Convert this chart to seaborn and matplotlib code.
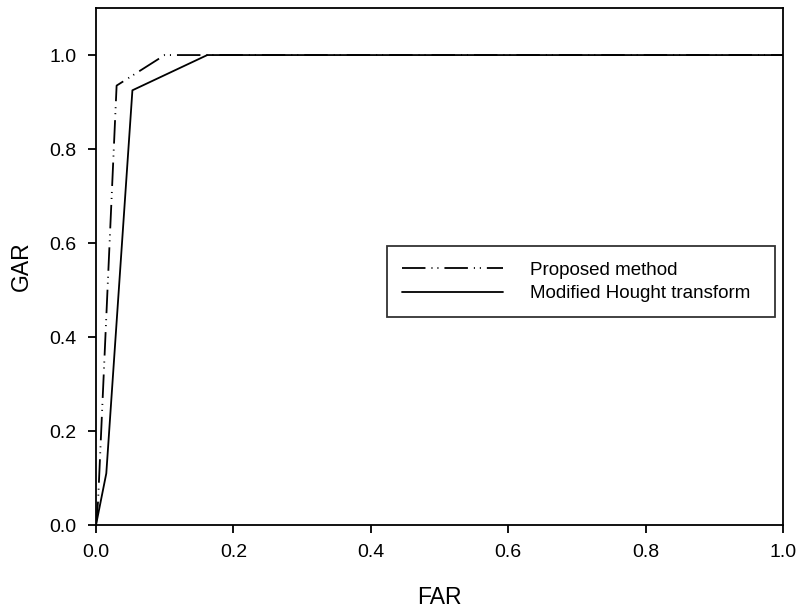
import pandas as pd
import matplotlib.pyplot as plt
import seaborn as sns

# ROC-like curves
far_proposed = [0.0, 0.003, 0.030, 0.100, 1.0]
gar_proposed = [0.0, 0.05, 0.935, 1.0, 1.0]
far_hough = [0.0, 0.015, 0.053, 0.162, 1.0]
gar_hough = [0.0, 0.11, 0.925, 1.0, 1.0]

labels = ['Proposed method', 'Modified Hought transform']
ticks = [0.0, 0.2, 0.4, 0.6, 0.8, 1.0]
tick_labels = ['0.0', '0.2', '0.4', '0.6', '0.8', '1.0']

df = pd.concat([
    pd.DataFrame({'FAR': far_proposed, 'GAR': gar_proposed, 'method': labels[0]}),
    pd.DataFrame({'FAR': far_hough, 'GAR': gar_hough, 'method': labels[1]}),
])

sns.set_style('ticks')
plt.rcParams['font.family'] = ['Liberation Sans', 'DejaVu Sans']

fig = plt.figure(figsize=(7.98, 6.10), dpi=100)
ax = fig.add_axes([0.1203, 0.1393, 0.8609, 0.8475])

sns.lineplot(data=df, x='FAR', y='GAR', style='method', hue='method',
             palette=['black', 'black'],
             dashes={labels[0]: (13, 3.3, 0.6, 2.7, 0.6, 3.3), labels[1]: ''},
             sort=False, linewidth=1.3, ax=ax)

ax.set_xlim(0, 1)
ax.set_ylim(0, 1.1)
ax.set_xticks(ticks)
ax.set_yticks(ticks)
ax.set_xticklabels(tick_labels, fontsize=14)
ax.set_yticklabels(tick_labels, fontsize=14)
ax.tick_params(direction='out', length=6, width=1.3, pad=8, color='black', labelcolor='black')
for s in ax.spines.values():
    s.set_linewidth(1.3)
    s.set_color('black')
ax.set_xlabel('FAR', fontsize=16.5, labelpad=18, color='black')
ax.set_ylabel('GAR', fontsize=16.5, labelpad=12, color='black')

leg = ax.legend(loc='lower left', bbox_to_anchor=(0.4236, 0.402, 0.5644, 0.145),
                mode='expand', borderaxespad=0, fontsize=13.5, frameon=True,
                fancybox=False, handlelength=5.4, handletextpad=1.4,
                borderpad=0.8, labelspacing=0.35)
leg.get_frame().set_edgecolor('black')
leg.get_frame().set_linewidth(1.3)
for t in leg.get_texts():
    t.set_color('black')

plt.savefig('out.png', dpi=100)
